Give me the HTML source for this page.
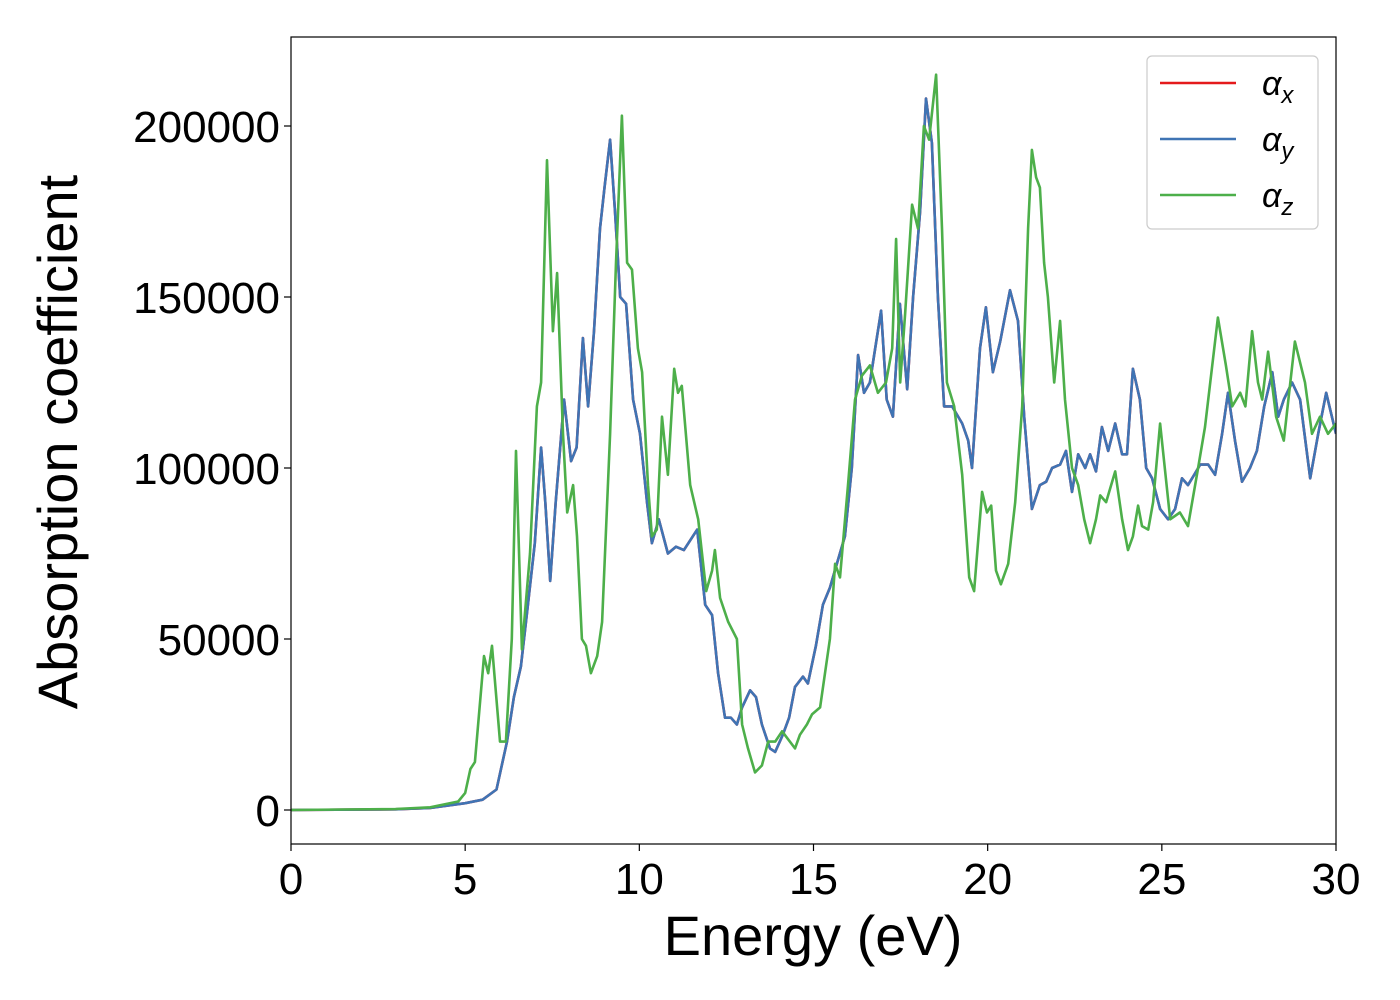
<!DOCTYPE html>
<html><head><meta charset="utf-8"><style>
html,body{margin:0;padding:0;background:#fff;}
svg{display:block;font-family:"Liberation Sans","DejaVu Sans",sans-serif;}
</style></head><body>
<svg id="chart" width="1400" height="1000" viewBox="0 0 1400 1000">
<g id="plot"></g>
</svg>
<script>
const xTicks=[0,5,10,15,20,25,30];
const yTicks=[0,50000,100000,150000,200000];
const energyY=[0,3,4,5,5.5,5.9,6.2,6.4,6.6,6.8,7.0,7.18,7.3,7.44,7.6,7.84,8.04,8.2,8.38,8.53,8.7,8.87,9.0,9.16,9.3,9.45,9.62,9.82,10.02,10.22,10.36,10.56,10.82,11.05,11.28,11.66,11.89,12.09,12.26,12.46,12.63,12.8,12.95,13.18,13.35,13.52,13.75,13.9,14.12,14.3,14.47,14.7,14.84,15.07,15.27,15.47,15.7,15.9,16.1,16.28,16.45,16.62,16.77,16.94,17.1,17.28,17.48,17.69,17.86,18.06,18.23,18.4,18.57,18.75,18.98,19.27,19.44,19.55,19.78,19.95,20.15,20.36,20.64,20.87,21.05,21.27,21.5,21.68,21.85,22.08,22.25,22.42,22.6,22.8,22.94,23.11,23.28,23.46,23.66,23.86,24.0,24.17,24.37,24.55,24.72,24.95,25.18,25.38,25.58,25.75,25.93,26.1,26.33,26.53,26.73,26.9,27.1,27.3,27.53,27.73,27.94,28.17,28.34,28.5,28.74,28.97,29.26,29.49,29.72,30];
const alphaY=[0,200,600,2000,3000,6000,20000,33000,42000,60000,78000,106000,90000,67000,90000,120000,102000,106000,138000,118000,140000,170000,182000,196000,175000,150000,148000,120000,110000,90000,78000,85000,75000,77000,76000,82000,60000,57000,40000,27000,27000,25000,30000,35000,33000,25000,18000,17000,22000,27000,36000,39000,37000,48000,60000,65000,73000,80000,100000,133000,122000,125000,135000,146000,120000,115000,148000,123000,150000,175000,208000,195000,150000,118000,118000,113000,108000,100000,135000,147000,128000,137000,152000,143000,115000,88000,95000,96000,100000,101000,105000,93000,104000,100000,104000,99000,112000,105000,113000,104000,104000,129000,120000,100000,97000,88000,85000,88000,97000,95000,98000,101000,101000,98000,110000,122000,108000,96000,100000,105000,118000,128000,115000,120000,125000,120000,97000,110000,122000,110000];
const alphaX=alphaY.slice();
const energyZ=[0,3,4,4.8,5.0,5.15,5.28,5.54,5.66,5.77,6.0,6.17,6.34,6.46,6.63,6.86,7.06,7.18,7.35,7.52,7.64,7.81,7.93,8.1,8.21,8.35,8.47,8.61,8.79,8.93,9.16,9.33,9.5,9.65,9.79,9.96,10.08,10.25,10.36,10.5,10.65,10.82,11.0,11.11,11.22,11.46,11.69,11.92,12.09,12.17,12.32,12.55,12.8,12.95,13.12,13.32,13.52,13.7,13.9,14.1,14.47,14.61,14.81,14.96,15.19,15.47,15.62,15.76,15.99,16.19,16.39,16.62,16.85,17.08,17.26,17.37,17.49,17.63,17.83,18.0,18.17,18.32,18.52,18.69,18.83,19.04,19.27,19.47,19.61,19.84,19.98,20.1,20.24,20.38,20.59,20.79,20.99,21.16,21.27,21.39,21.5,21.62,21.73,21.91,22.08,22.22,22.42,22.6,22.77,22.94,23.11,23.23,23.4,23.66,23.86,24.03,24.17,24.32,24.43,24.61,24.75,24.95,25.24,25.52,25.75,26.04,26.24,26.61,26.84,27.02,27.25,27.4,27.59,27.76,27.88,28.05,28.28,28.5,28.82,29.11,29.31,29.54,29.77,30];
const alphaZ=[0,300,800,2500,5000,12000,14000,45000,40000,48000,20000,20000,50000,105000,47000,75000,118000,125000,190000,140000,157000,110000,87000,95000,80000,50000,48000,40000,45000,55000,110000,160000,203000,160000,158000,135000,128000,95000,80000,82000,115000,98000,129000,122000,124000,95000,85000,64000,70000,76000,62000,55000,50000,25000,18000,11000,13000,20000,20000,23000,18000,22000,25000,28000,30000,50000,72000,68000,95000,120000,127000,130000,122000,125000,135000,167000,125000,145000,177000,170000,200000,196000,215000,170000,125000,118000,98000,68000,64000,93000,87000,89000,70000,66000,72000,90000,118000,170000,193000,185000,182000,160000,150000,125000,143000,120000,100000,95000,85000,78000,85000,92000,90000,99000,85000,76000,80000,89000,83000,82000,90000,113000,85000,87000,83000,100000,112000,144000,130000,118000,122000,118000,140000,125000,120000,134000,115000,108000,137000,125000,110000,115000,110000,113000];

const L=291,R=1336,T=37,B=844;
const xs=v=>L+(v-0)/30*(R-L);
const ys=v=>810-v*0.00342;
const NS='http://www.w3.org/2000/svg';
const svg=document.getElementById('chart');
const plot=document.getElementById('plot');
function mk(tag,attrs,parent){const e=document.createElementNS(NS,tag);for(const k in attrs)e.setAttribute(k,attrs[k]);(parent||svg).appendChild(e);return e;}

const clip=mk('clipPath',{id:'clp'});mk('rect',{x:L,y:T,width:R-L,height:B-T},clip);
function series(xa,ya,color,name){
  let d='';for(let i=0;i<xa.length;i++)d+=(i?'L':'M')+xs(xa[i]).toFixed(1)+','+ys(ya[i]).toFixed(1);
  const p=mk('path',{d:d,fill:'none',stroke:color,'stroke-width':2.6,'stroke-linejoin':'round','clip-path':'url(#clp)'},plot);
  
  
}
series(energyY,alphaX,'#e41a1c','series-alpha-x');
series(energyY,alphaY,'#3f74b4','series-alpha-y');
series(energyZ,alphaZ,'#4daf4a','series-alpha-z');

const frame=mk('rect',{x:L,y:T,width:R-L,height:B-T,fill:'none',stroke:'#000','stroke-width':1.2});



xTicks.forEach(v=>{
  const x=xs(v);
  mk('line',{x1:x,x2:x,y1:B,y2:B+7,stroke:'#000','stroke-width':1.2});
  const t=mk('text',{x:x,y:894,'text-anchor':'middle','font-size':44,fill:'#000'});t.textContent=v;
  
  
});
yTicks.forEach(v=>{
  const y=ys(v);
  mk('line',{x1:L-7,x2:L,y1:y,y2:y,stroke:'#000','stroke-width':1.2});
  const t=mk('text',{x:280,y:y+16,'text-anchor':'end','font-size':44,fill:'#000'});t.textContent=v;
  
  
});
</script>
<svg width="0" height="0" style="position:absolute"></svg>
<div style="position:absolute;left:0;top:0;width:1400px;height:1000px;pointer-events:none">
<svg width="1400" height="1000" style="font-family:'Liberation Sans','DejaVu Sans',sans-serif">
<text x="813" y="955" text-anchor="middle" font-size="56">Energy (eV)</text>
<text transform="translate(77,442) rotate(-90)" text-anchor="middle" font-size="56">Absorption coefficient</text>
<g>
<rect x="1147" y="56" width="171" height="173" rx="5" fill="#fff" fill-opacity="0.85" stroke="#ccc" stroke-width="1.2"/>
<g>
<line x1="1160" x2="1236" y1="83" y2="83" stroke="#e41a1c" stroke-width="2.6"/>
<text x="1262" y="95" font-size="34" font-style="italic">α<tspan font-size="24" dy="8">x</tspan></text></g>
<g>
<line x1="1160" x2="1236" y1="139" y2="139" stroke="#3f74b4" stroke-width="2.6"/>
<text x="1262" y="151" font-size="34" font-style="italic">α<tspan font-size="24" dy="8">y</tspan></text></g>
<g>
<line x1="1160" x2="1236" y1="195" y2="195" stroke="#4daf4a" stroke-width="2.6"/>
<text x="1262" y="207" font-size="34" font-style="italic">α<tspan font-size="24" dy="8">z</tspan></text></g>
</g>
</svg></div>
</body></html>
